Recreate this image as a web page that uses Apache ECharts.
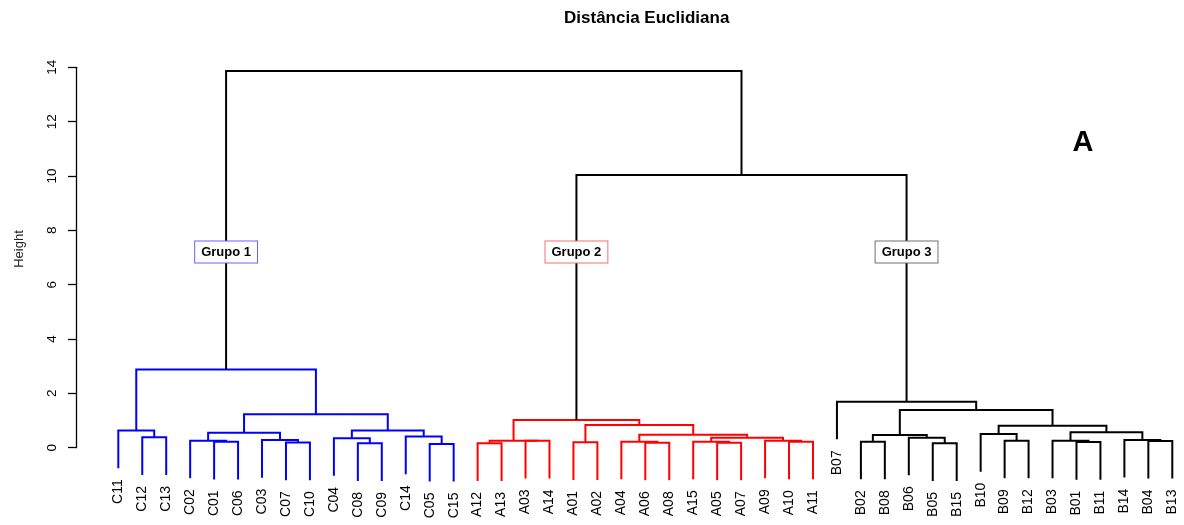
<!DOCTYPE html>
<html>
<head>
<meta charset="utf-8">
<script src="https://cdn.jsdelivr.net/npm/echarts@6/dist/echarts.min.js"></script>
<style>
html,body{margin:0;padding:0;background:#fff;}
#chart{width:1184px;height:525px;}
</style>
</head>
<body>
<div id="chart"></div>
<script>
// Leaves in dendrogram order
const leafLabels = [
  'C11','C12','C13','C02','C01','C06','C03','C07','C10','C04','C08','C09','C14','C05','C15',
  'A12','A13','A03','A14','A01','A02','A04','A06','A08','A15','A05','A07','A09','A10','A11',
  'B07','B02','B08','B06','B05','B15','B10','B09','B12','B03','B01','B11','B14','B04','B13'
];
// Merge matrix (R hclust style): negative = leaf position (1-based), positive = earlier merge step
const mergeLeft  = [-14,-11,-8,-5,-4,-7,-10,-2,-13, 5, 7,-1,10,12,
                    -16,-18,15,-20,-23,-22,-26,-25,-29,-28,22,20,18,17,
                    -32,-35,-34,29,-38,-37,-41,-40,-44,-43,36,34,32,-31,
                    28,14];
const mergeRight = [-15,-12,-9,-6, 4, 3, 2,-3, 1, 6, 9, 8,11,13,
                    -17,-19,16,-21,-24,19,-27,21,-30,23,24,25,26,27,
                    -33,-36,30,31,-39,33,-42,35,-45,37,38,39,40,41,
                    42,43];
const mergeHeight = [0.14,0.16,0.19,0.22,0.26,0.28,0.35,0.38,0.41,0.55,0.63,0.63,1.23,2.88,
                     0.16,0.255,0.26,0.20,0.185,0.222,0.185,0.222,0.222,0.259,0.369,0.48,0.835,1.02,
                     0.222,0.161,0.369,0.467,0.259,0.504,0.21,0.259,0.25,0.285,0.565,0.811,1.388,1.694,
                     10.04,13.86];
const groupNames = ['Grupo 1','Grupo 2','Grupo 3'];
const groupPrefixes = ['C','A','B'];
const groupColors = ['#0000ff','#ff0000','#000000'];
const groupBoxColors = ['#6464ff','#f07070','#707070'];
const groupLabelHeight = 7.2;
const yMin = 0, yMax = 14, yInterval = 2;
const titleText = 'Distância Euclidiana';
const panelLetter = 'A';
const yAxisName = 'Height';

// ---- build tree geometry from the data ----
const hang = 0.1 * Math.max(...mergeHeight);
const leafGroup = k => groupPrefixes.indexOf(leafLabels[k - 1][0]);
const nodes = [];
const leafTip = new Array(leafLabels.length).fill(0);
const mergeData = [];
const mergeColors = [];
for (let i = 0; i < mergeHeight.length; i++) {
  const h = mergeHeight[i];
  const kids = [mergeLeft[i], mergeRight[i]].map(c => {
    if (c < 0) {
      const k = -c;
      leafTip[k - 1] = h - hang;
      return { x: k, h: h - hang, grp: leafGroup(k) };
    }
    return nodes[c - 1];
  });
  const grp = kids[0].grp === kids[1].grp ? kids[0].grp : -1;
  nodes.push({ x: (kids[0].x + kids[1].x) / 2, h: h, grp: grp });
  mergeData.push([kids[0].x, kids[0].h, kids[1].x, kids[1].h, h]);
  mergeColors.push(grp >= 0 ? groupColors[grp] : '#000000');
}
const leafData = leafLabels.map((l, i) => [i + 1, leafTip[i]]);
const groupData = groupNames.map((g, gi) => {
  let best = null;
  nodes.forEach(nd => { if (nd.grp === gi && (!best || nd.h > best.h)) best = nd; });
  return [best.x, groupLabelHeight];
});

const FONT = '"Liberation Sans", Arial, Helvetica, sans-serif';
const chart = echarts.init(document.getElementById('chart'), null, { renderer: 'canvas' });
chart.setOption({
  animation: false,
  backgroundColor: '#ffffff',
  grid: { left: 118.3, right: 11.7, top: 67.3, bottom: 77.3, containLabel: false, outerBoundsMode: 'none' },
  xAxis: { type: 'value', min: 1, max: leafLabels.length, show: false },
  yAxis: {
    type: 'value', min: yMin, max: yMax, interval: yInterval, offset: 42.3,
    axisLine: { show: true, lineStyle: { color: '#000', width: 1.3 } },
    axisTick: { show: true, length: 8, lineStyle: { color: '#000', width: 1.3 } },
    axisLabel: { rotate: 90, margin: 17, fontSize: 13.5, color: '#000', fontFamily: 'Liberation Sans' },
    splitLine: { show: false }
  },
  graphic: [
    { type: 'text', x: 646.7, y: 18, style: { text: titleText, font: 'bold 17px ' + FONT, fill: '#000', align: 'center', verticalAlign: 'middle' } },
    { type: 'text', x: 1083, y: 143, style: { text: panelLetter, font: 'bold 29px ' + FONT, fill: '#000', align: 'center', verticalAlign: 'middle' } },
    { type: 'text', x: 19, y: 249, rotation: Math.PI / 2, style: { text: yAxisName, font: '13px ' + FONT, fill: '#222', align: 'center', verticalAlign: 'middle' } }
  ],
  series: [
    {
      type: 'custom', clip: false, z: 2,
      data: mergeData,
      encode: { x: [0, 2], y: [1, 3, 4] },
      renderItem: (params, api) => {
        const a = api.coord([api.value(0), api.value(1)]);
        const b = api.coord([api.value(0), api.value(4)]);
        const c = api.coord([api.value(2), api.value(4)]);
        const d = api.coord([api.value(2), api.value(3)]);
        return { type: 'polyline', shape: { points: [a, b, c, d] },
          style: { stroke: mergeColors[params.dataIndex], lineWidth: 2, fill: null } };
      }
    },
    {
      type: 'custom', clip: false, z: 3,
      data: leafData,
      encode: { x: 0, y: 1 },
      renderItem: (params, api) => {
        const p = api.coord([api.value(0), api.value(1)]);
        return { type: 'text', x: p[0], y: p[1] + 11, rotation: Math.PI / 2,
          style: { text: leafLabels[params.dataIndex], x: 0, y: 0, font: '14px ' + FONT, fill: '#000', align: 'right', verticalAlign: 'middle' } };
      }
    },
    {
      type: 'custom', clip: false, z: 4,
      data: groupData,
      encode: { x: 0, y: 1 },
      renderItem: (params, api) => {
        const p = api.coord([api.value(0), api.value(1)]);
        return { type: 'text', x: p[0], y: p[1],
          style: { text: groupNames[params.dataIndex], x: 0, y: 0, font: 'bold 13px ' + FONT, fill: '#000',
            align: 'center', verticalAlign: 'middle', backgroundColor: '#fff',
            borderColor: groupBoxColors[params.dataIndex], borderWidth: 1, padding: [4, 6, 4, 6] } };
      }
    }
  ]
});
</script>
</body>
</html>
